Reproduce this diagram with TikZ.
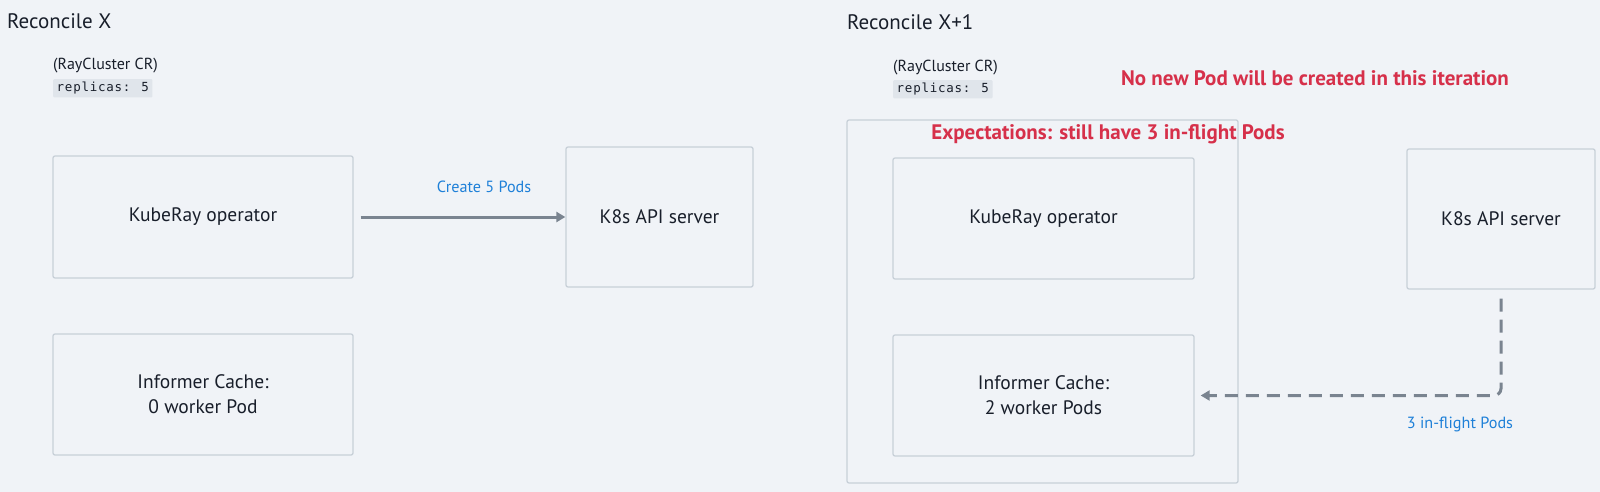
\documentclass[tikz,border=0pt]{standalone}
\usepackage{fontspec}
\setmainfont{PT Sans}
\newfontfamily\codefont[LetterSpace=6]{DejaVu Sans Mono}
\usetikzlibrary{arrows.meta,positioning}
\definecolor{bgGray}{RGB}{240,243,247}
\definecolor{boxLine}{RGB}{200,208,216}
\definecolor{inkDark}{RGB}{24,30,42}
\definecolor{arrowGray}{RGB}{122,132,144}
\definecolor{linkBlue}{RGB}{30,128,216}
\definecolor{warnRed}{RGB}{214,48,74}
\definecolor{codeGray}{RGB}{224,229,235}
\tikzset{
  comp/.style={draw=boxLine,line width=1.3pt,rounded corners=2pt,fill=bgGray,
               font=\fontsize{19.5}{25}\selectfont,text=inkDark,align=center,inner sep=0pt},
  title/.style={font=\fontsize{21}{24}\selectfont,text=inkDark,anchor=west,inner sep=0pt},
  crlabel/.style={font=\fontsize{16}{18}\selectfont,text=inkDark,anchor=west,inner sep=0pt},
  code/.style={font=\codefont\fontsize{12.5}{14}\selectfont,text=inkDark,fill=codeGray,
               inner xsep=3.5pt,inner ysep=3pt,rounded corners=1pt},
  note/.style={font=\bfseries\fontsize{21}{24}\selectfont,text=warnRed,inner sep=0pt},
  lbl/.style={font=\fontsize{16.2}{18}\selectfont,text=linkBlue,inner sep=0pt},
  arr/.style={-{Triangle[length=9pt,width=10pt]},line width=3pt,draw=arrowGray},
  darr/.style={arr,dash pattern=on 13pt off 8pt,rounded corners=7pt},
}
\begin{document}
\begin{tikzpicture}[x=1pt,y=-1pt]
  \fill[bgGray] (0,0) rectangle (1600,492);

  % Reconcile X
  \node[title] (t1) at (7,21) {Reconcile X};
  \node[crlabel] (cr1) at (53,66) {(RayCluster CR)};
  \node[code,anchor=north west] (rep1) at (53,79) {replicas: 5};
  \node[comp,minimum width=300pt,minimum height=122pt] (op1) at (203,217) {KubeRay operator};
  \node[comp,minimum width=187pt,minimum height=140pt] (api1) at (659.5,217) {K8s API server};
  \node[comp,minimum width=300pt,minimum height=121pt] (cache1) at (203,394.5)
    {Informer Cache:\\0 worker Pod};
  \node[lbl] (l1) at (484,187) {Create 5 Pods};
  \draw[arr,shorten <=7pt] (op1.east) -- (api1.west);

  % Reconcile X+1
  \node[title] (t2) at (847,22) {Reconcile X+1};
  \node[crlabel] (cr2) at (893,68) {(RayCluster CR)};
  \node[code,anchor=north west] (rep2) at (893,80) {replicas: 5};
  \node[note] (n1) at (1315,78) {No new Pod will be created in this iteration};
  \node[draw=boxLine,line width=1.3pt,rounded corners=2pt,minimum width=391pt,
        minimum height=363pt] (exp) at (1042.5,301.5) {};
  \node[note] (n2) at (1108,134) {Expectations: still have 3 in-flight Pods};
  \node[comp,minimum width=301pt,minimum height=121pt] (op2) at (1043.5,218.5) {KubeRay operator};
  \node[comp,minimum width=301pt,minimum height=121pt] (cache2) at (1043.5,395.5)
    {Informer Cache:\\2 worker Pods};
  \node[comp,minimum width=188pt,minimum height=140pt] (api2) at (1501,219) {K8s API server};
  \node[lbl] (l2) at (1460,424) {3 in-flight Pods};
  \draw[darr,shorten <=9pt,shorten >=6pt] (api2.south) |- (cache2.east);
\end{tikzpicture}
\end{document}
